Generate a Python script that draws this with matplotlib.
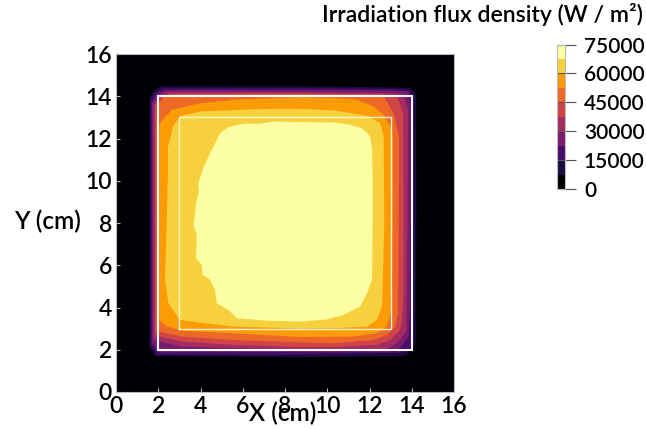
import matplotlib.pyplot as plt
import matplotlib as mpl
import numpy as np

# Contour outlines, in cm
level_7500 = [(1.58, 2.1), (1.58, 13.9), (1.75, 14.2), (2.1, 14.47), (8.7, 14.47), (13.0, 14.42), (13.93, 14.38),
              (14.2, 14.15), (14.22, 8), (14.18, 2.3), (13.75, 1.75), (13.45, 1.7), (8.7, 1.65), (1.85, 1.7)]
level_15000 = [(1.65, 2.2), (1.65, 13.8), (1.85, 14.15), (2.2, 14.38), (8.7, 14.38), (13.0, 14.35), (13.93, 14.3),
               (14.05, 13.5), (14.07, 8), (14.05, 4.5), (14.0, 2.15), (13.45, 1.85), (8.7, 1.77), (1.95, 1.77)]
level_22500 = [(1.71, 2.3), (1.71, 13.7), (1.95, 14.1), (2.3, 14.29), (8.7, 14.29), (13.0, 14.27), (13.83, 14.23),
               (13.95, 13.6), (13.93, 8), (13.9, 3.5), (13.85, 2.62), (13.45, 2.08), (13.0, 1.91), (8.7, 1.9),
               (2.05, 1.88)]
level_30000 = [(1.77, 2.5), (1.77, 13.6), (2.0, 14.0), (2.4, 14.2), (8.7, 14.2), (13.0, 14.15), (13.6, 14.07),
               (13.83, 13.36), (13.8, 8), (13.75, 3.6), (13.74, 2.85), (13.3, 2.32), (12.83, 2.04), (8.72, 2.0),
               (3.17, 2.15), (2.0, 2.4)]
level_37500 = [(1.84, 2.7), (1.84, 13.5), (2.0, 13.9), (2.6, 14.13), (8.7, 14.13), (12.5, 14.1), (13.3, 14.03),
               (13.6, 13.2), (13.62, 8), (13.6, 4.5), (13.55, 3.6), (13.45, 2.94), (12.98, 2.46), (12.35, 2.23),
               (10.3, 2.12), (8.72, 2.12), (5.55, 2.23), (3.17, 2.38), (2.05, 2.62)]
level_45000 = [(1.92, 2.95), (1.92, 13.0), (2.0, 13.6), (2.3, 14.05), (8.7, 14.08), (12.67, 14.0), (13.14, 13.2),
               (13.4, 12.1), (13.38, 8), (13.35, 3.73), (13.22, 3.1), (12.83, 2.7), (12.18, 2.46), (10.3, 2.3),
               (8.72, 2.35), (5.55, 2.46), (3.17, 2.62), (2.05, 2.85)]
level_52500 = [(2.05, 3.41), (2.04, 8), (2.05, 12.6), (2.13, 12.8), (2.64, 13.36), (3.98, 13.67), (5.55, 13.83),
               (8.72, 13.96), (10.3, 13.92), (11.4, 13.84), (12.18, 13.52), (12.66, 13.13), (13.0, 12.57),
               (13.1, 11.94), (13.09, 8), (13.0, 3.73), (12.83, 3.1), (12.35, 2.78), (11.1, 2.62), (8.72, 2.6),
               (5.55, 2.78), (3.17, 2.9), (2.4, 3.1)]
level_60000 = [(2.32, 5.3), (2.4, 8), (2.46, 10.4), (2.46, 11.6), (2.7, 12.57), (3.03, 13.05), (3.98, 13.28),
               (7.14, 13.4), (8.72, 13.4), (10.3, 13.33), (11.88, 13.08), (12.5, 12.73), (12.67, 12.1), (12.7, 8),
               (12.63, 5.3), (12.59, 4.04), (12.35, 3.41), (11.88, 3.1), (10.3, 3.02), (8.72, 3.0), (5.55, 3.1),
               (3.98, 3.28), (3.03, 3.41), (2.75, 3.8), (2.48, 4.2)]
level_67500 = [(4.09, 5.54), (4.06, 6.02), (3.79, 6.33), (3.82, 7.44), (3.67, 7.91), (3.74, 8.46),
               (3.79, 8.94), (3.93, 9.49), (3.9, 9.88), (4.1, 10.52), (4.45, 11.3), (4.93, 12.25), (5.32, 12.54),
               (6.02, 12.7), (6.82, 12.7), (7.45, 12.8), (8.72, 12.78), (10.3, 12.76), (11.1, 12.65), (11.7, 12.45),
               (12.03, 12.1), (12.12, 11.47), (12.15, 10.05), (12.15, 8), (12.12, 5.3), (11.88, 4.68), (11.56, 4.04),
               (10.77, 3.65), (10.0, 3.44), (8.72, 3.33), (7.14, 3.38), (5.72, 3.49), (5.32, 3.89), (4.77, 4.2),
               (4.69, 4.83), (4.45, 5.3), (4.37, 5.39)]
outlines = [level_7500, level_15000, level_22500, level_30000, level_37500,
            level_45000, level_52500, level_60000, level_67500]

outer_square = [2, 14]
inner_square = [3, 13]

axis_ticks = [0, 2, 4, 6, 8, 10, 12, 14, 16]
bar_ticks = [0, 15000, 30000, 45000, 60000, 75000]
bar_levels = np.arange(0, 75001, 7500)

mpl.rcParams["font.family"] = "Lato"
mpl.rcParams["font.weight"] = "semibold"
mpl.rcParams["font.size"] = 16.5

colours = mpl.colormaps["inferno"](np.linspace(0, 1, 10))
cmap = mpl.colors.ListedColormap(colours)
norm = mpl.colors.BoundaryNorm(bar_levels, cmap.N)

figure = plt.figure(figsize=(6.46, 4.29), dpi=100)
ax = figure.add_axes([116 / 646, 37 / 429, 338 / 646, 338 / 429])
ax.set_facecolor(colours[0])

for i, outline in enumerate(outlines):
    xs, ys = zip(*outline)
    ax.fill(xs, ys, color=colours[i + 1], lw=0)


def draw_square(limits, **style):
    low, high = limits
    ax.plot([low, high, high, low, low], [low, low, high, high, low], solid_joinstyle="miter", **style)


draw_square(outer_square, color="white", lw=1.5)
draw_square(inner_square, color="#fff3d0", lw=1)

ax.set_xlim(0, 16)
ax.set_ylim(0, 16)
ax.set_xticks(axis_ticks)
ax.set_yticks(axis_ticks)
ax.tick_params(direction="in", length=3, width=0.8, color="#bbbbbb", pad=3)
for spine in ax.spines.values():
    spine.set_color("#bbbbbb")

figure.text(283 / 646, 1 - 413 / 429, "X (cm)", ha="center", va="center", fontsize=17.6)
figure.text(47 / 646, 1 - 221 / 429, "Y (cm)", ha="center", va="center", fontsize=17.6)
figure.text(643 / 646, 1 - 15 / 429, "Irradiation flux density (W / m\u00b2)", ha="right", va="center", fontsize=16.6)

# Colorbar with the ticks running over the bar
cax = figure.add_axes([557 / 646, 1 - 189 / 429, 7.5 / 646, 144.5 / 429])
colorbar = figure.colorbar(mpl.cm.ScalarMappable(norm=norm, cmap=cmap), cax=cax, spacing="proportional")
colorbar.set_ticks(bar_ticks)
colorbar.ax.minorticks_off()
colorbar.ax.tick_params(length=8, width=0.8, color="#555555", pad=6, labelsize=15)
colorbar.outline.set_edgecolor("#bbbbbb")
colorbar.ax.hlines(bar_ticks, 0, 1, color="#555555", lw=0.8, transform=colorbar.ax.get_yaxis_transform(), clip_on=False)

plt.savefig("out.png", dpi=100)
plt.close()
